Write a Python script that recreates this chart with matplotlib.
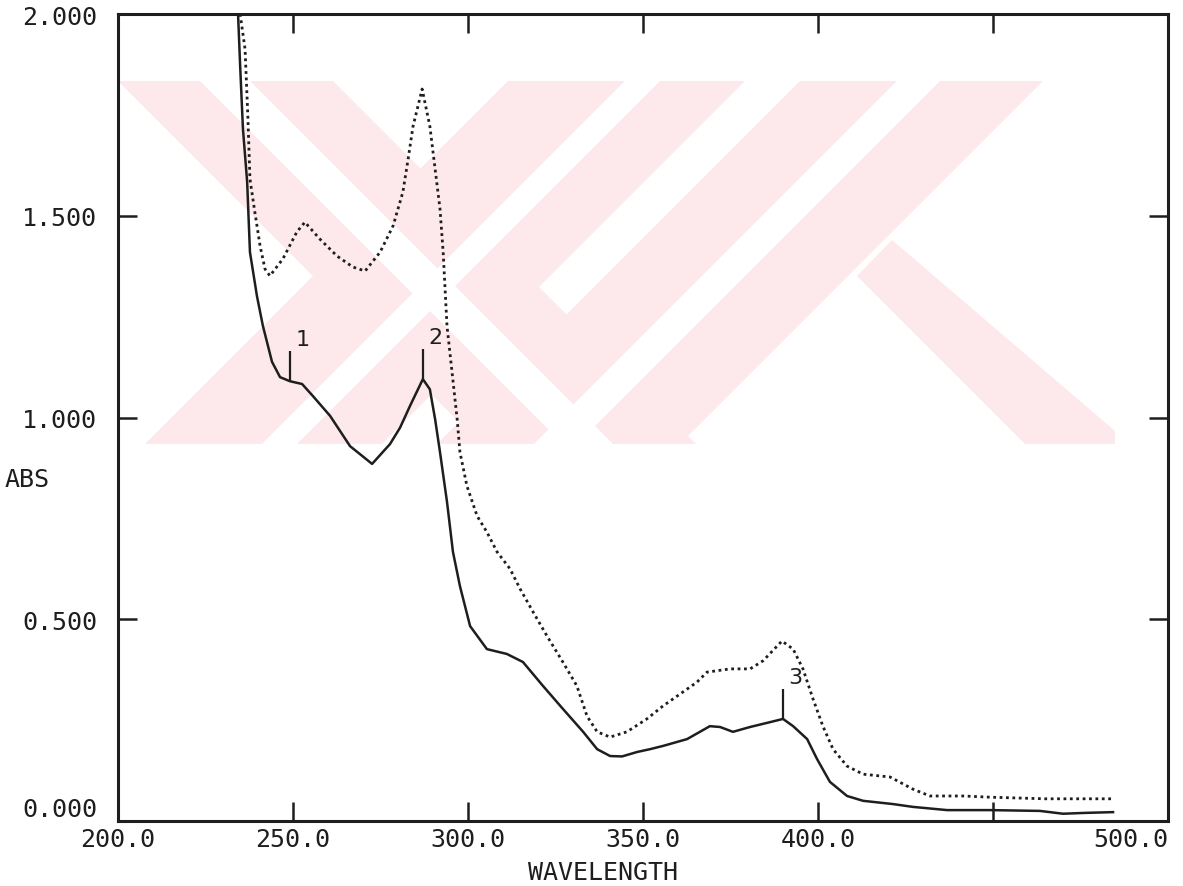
import matplotlib.pyplot as plt
from matplotlib.patches import Polygon

# solid spectrum (sample)
wl_solid = [234.3, 234.9, 235.7, 236.9, 237.7, 239.7, 241.4, 244.0, 246.3, 249.1,
            252.6, 255.7, 260.6, 266.3, 272.6, 277.7, 280.6, 283.5, 287.1, 289.1,
            290.6, 292.0, 294.0, 295.7, 297.7, 300.6, 305.4, 311.1, 315.7, 321.4,
            327.1, 332.9, 336.9, 340.6, 344.0, 348.3, 352.0, 355.7, 362.6, 369.1,
            372.0, 375.7, 380.6, 386.3, 390.0, 392.9, 396.9, 399.7, 403.4, 408.3,
            412.9, 421.4, 427.1, 436.9, 449.1, 463.4, 470.0, 476.0, 484.3]
abs_solid = [2.000, 1.871, 1.715, 1.584, 1.410, 1.301, 1.227, 1.138, 1.100, 1.090,
             1.083, 1.053, 1.004, 0.929, 0.885, 0.934, 0.975, 1.030, 1.095, 1.070,
             0.996, 0.914, 0.791, 0.667, 0.582, 0.483, 0.426, 0.414, 0.394, 0.335,
             0.278, 0.221, 0.178, 0.161, 0.160, 0.171, 0.178, 0.186, 0.203, 0.235,
             0.233, 0.221, 0.233, 0.245, 0.253, 0.235, 0.203, 0.154, 0.097, 0.062,
             0.050, 0.042, 0.035, 0.027, 0.027, 0.025, 0.018, 0.020, 0.022]

# dotted spectrum (reference)
wl_dot = [234.9, 236.3, 237.1, 237.7, 239.1, 240.6, 242.0, 243.4, 247.1, 251.1,
          253.4, 257.7, 262.6, 267.1, 270.6, 274.9, 278.6, 281.4, 282.9, 284.3,
          286.9, 289.1, 290.6, 292.0, 292.9, 294.0, 296.9, 297.7, 299.7, 302.6,
          305.4, 308.3, 312.0, 314.9, 318.6, 322.6, 327.1, 331.1, 334.0, 336.9,
          340.6, 345.4, 351.1, 355.7, 365.4, 368.3, 374.9, 380.6, 384.3, 389.7,
          392.9, 395.7, 398.6, 401.4, 404.3, 408.3, 412.9, 420.6, 427.1, 432.0,
          441.4, 449.1, 465.0, 484.3]
abs_dot = [2.000, 1.913, 1.747, 1.591, 1.509, 1.425, 1.368, 1.351, 1.393, 1.460,
           1.484, 1.442, 1.400, 1.373, 1.363, 1.410, 1.475, 1.559, 1.641, 1.722,
           1.814, 1.722, 1.616, 1.517, 1.410, 1.227, 0.996, 0.914, 0.830, 0.756,
           0.716, 0.667, 0.625, 0.575, 0.518, 0.458, 0.394, 0.335, 0.260, 0.221,
           0.208, 0.221, 0.253, 0.285, 0.344, 0.369, 0.377, 0.377, 0.397, 0.446,
           0.426, 0.377, 0.302, 0.235, 0.178, 0.136, 0.116, 0.109, 0.079, 0.062,
           0.062, 0.059, 0.055, 0.055]

# picked peaks on the solid trace
peak_num = ["1", "2", "3"]
peak_wl = [249.1, 287.1, 390.0]
peak_abs = [1.090, 1.095, 0.253]

xticks = [200, 250, 300, 350, 400, 450, 500]
xlabels = ["200.0", "250.0", "300.0", "350.0", "400.0", "", "500.0"]
yticks = [0.0, 0.5, 1.0, 1.5, 2.0]
ylabels = ["0.000", "0.500", "1.000", "1.500", "2.000"]

ink = "#1e1e1e"
mono = "DejaVu Sans Mono"

fig = plt.figure(figsize=(11.83, 8.87), dpi=100)
ax = fig.add_axes([118 / 1183, 65 / 887, 1050 / 1183, 807 / 887])


def wm(pts):
    # watermark outline given in picture pixels -> axes fraction
    return [((x - 118) / 1050, (822 - y) / 807) for x, y in pts]


# faint pink "XX" watermark behind the traces
pink = "#fde8ec"
T, B = 82, 445
arms = [
    [(118, T), (333, T), (696, B), (481, B)],
    [(508, T), (745, T), (382, B), (145, B)],
    [(800, T), (1043, T), (680, B), (437, B)],
    [(857, 277), (892, 241), (1115, 432), (1115, B), (1025, B)],
]
for a in arms:
    ax.add_patch(Polygon(wm(a), closed=True, transform=ax.transAxes,
                         facecolor=pink, edgecolor="none", zorder=0))
stripes = [
    [(200, T), (250, T), (613, B), (563, B)],
    [(625, T), (660, T), (297, B), (262, B)],
    [(897, T), (940, T), (577, B), (534, B)],
]
for s in stripes:
    ax.add_patch(Polygon(wm(s), closed=True, transform=ax.transAxes,
                         facecolor="white", edgecolor="none", zorder=0.5))

ax.plot(wl_solid, abs_solid, color=ink, lw=1.8, zorder=3)
ax.plot(wl_dot, abs_dot, color=ink, lw=2.0, linestyle=(0, (1, 1.3)), zorder=3)

for n, w, a in zip(peak_num, peak_wl, peak_abs):
    ax.vlines(w, a, a + 0.075, color=ink, lw=1.6, zorder=3)
    ax.text(w + 1.5, a + 0.08, n, fontsize=16, color=ink, ha="left", va="bottom")

ax.set_xlim(200, 500)
ax.set_ylim(0, 2.0)
ax.set_xticks(xticks)
ax.set_xticklabels(xlabels, family=mono, fontsize=18, color=ink)
ax.set_yticks(yticks)
ax.set_yticklabels(ylabels, family=mono, fontsize=18, color=ink)
ax.get_xticklabels()[-1].set_ha("right")
# bottom y label sits just above its tick, clear of "200.0"
ax.get_yticklabels()[0].set_va("bottom")
ax.tick_params(direction="in", length=14, width=1.8, color=ink,
               top=True, right=True)
ax.tick_params(axis="x", pad=4)
ax.tick_params(axis="y", pad=15)
for sp in ax.spines.values():
    sp.set_linewidth(2.2)
    sp.set_color(ink)

fig.text(5 / 1183, 1 - 480 / 887, "ABS", family=mono, fontsize=18,
         color=ink, ha="left", va="center")
fig.text(603 / 1183, 1 - 873 / 887, "WAVELENGTH", family=mono, fontsize=18,
         color=ink, ha="center", va="center")

fig.savefig("out.png", dpi=100, facecolor="white")
